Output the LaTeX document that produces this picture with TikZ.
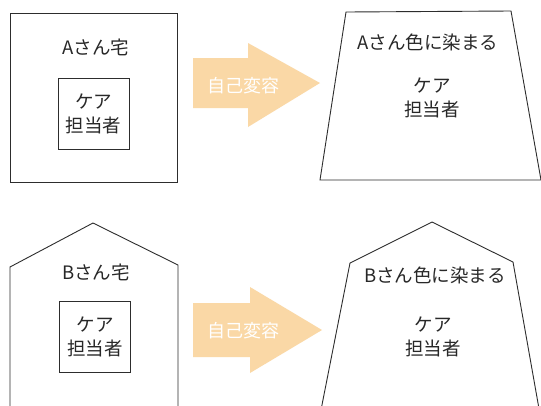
\documentclass[tikz,border=0pt]{standalone}
\usepackage{fontspec}
\setmainfont{Noto Sans CJK JP}
\definecolor{linegray}{RGB}{45,45,45}
\definecolor{arrowfill}{RGB}{250,216,166}
\definecolor{textgray}{RGB}{40,40,40}
\begin{document}
\begin{tikzpicture}[x=1pt,y=-1pt,
  outline/.style={draw=linegray, line width=0.9pt, line join=miter},
  lbl/.style={inner sep=0pt, text=textgray, font=\fontsize{18.5}{24}\selectfont, align=center},
  carebox/.style={outline, minimum width=71pt, minimum height=71pt, inner sep=0pt, text=textgray, font=\fontsize{18.5}{24}\selectfont, align=center},
  bigarrow/.style={fill=arrowfill, draw=none},
  arrowlbl/.style={inner sep=0pt, text=white, font=\fontsize{18}{20}\selectfont}]
\useasboundingbox (0,0) rectangle (541,405);
\clip (0,0) rectangle (541,405);
\fill[white] (0,0) rectangle (541,405);
% --- top row ---
\draw[outline] (10,13) rectangle (177,182);
\node[lbl] (ahome) at (96,47) {Aさん宅};
\node[carebox] (acare) at (93.5,113.5) {ケア\\担当者};
\path[bigarrow] (193,58) -- (248,58) -- (248,43) -- (320,83) -- (248,127) -- (248,108) -- (193,108) -- cycle;
\node[arrowlbl] (achange) at (243,86) {自己変容};
\draw[outline] (346,12) -- (511,11) -- (541,180) -- (320,180) -- cycle;
\node[lbl] (acolor) at (428,42) {Aさん色に染まる};
\node[lbl] (acare2) at (432,98) {ケア\\担当者};
% --- bottom row ---
\draw[outline] (10,420) -- (10,267) -- (93,223) -- (178,265) -- (178,420) -- cycle;
\node[lbl] (bhome) at (96,272) {Bさん宅};
\node[carebox] (bcare) at (95,337) {ケア\\担当者};
\path[bigarrow] (193,303) -- (250,303) -- (250,287) -- (322,330) -- (250,373) -- (250,357) -- (193,357) -- cycle;
\node[arrowlbl] (bchange) at (243,331) {自己変容};
\draw[outline] (319,420) -- (350,263) -- (432,222) -- (513,262) -- (541,420) -- cycle;
\node[lbl] (bcolor) at (435,275) {Bさん色に染まる};
\node[lbl] (bcare2) at (433,337) {ケア\\担当者};
\end{tikzpicture}
\end{document}
